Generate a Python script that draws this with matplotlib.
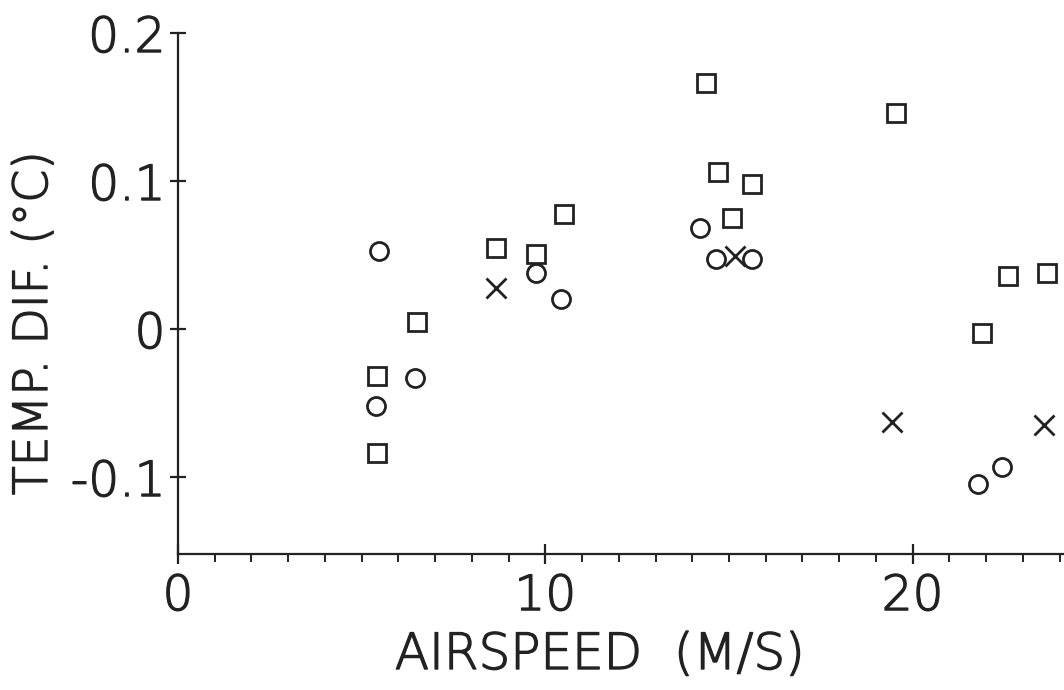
import matplotlib
matplotlib.use("Agg")
import matplotlib.pyplot as plt
import matplotlib.patheffects as pe
from matplotlib.ticker import FixedLocator, FixedFormatter
from matplotlib.font_manager import FontProperties

# Data
square_x = [5.43, 5.43, 6.52, 8.65, 9.74, 10.5, 14.38, 14.7, 15.09, 15.63, 19.56, 21.88, 22.6, 23.66]
square_y = [-0.032, -0.084, 0.005, 0.055, 0.051, 0.078, 0.166, 0.106, 0.075, 0.098, 0.146, -0.003, 0.036, 0.038]
circle_x = [5.46, 5.40, 6.44, 9.74, 10.42, 14.2, 14.65, 15.63, 21.77, 22.43]
circle_y = [0.053, -0.052, -0.033, 0.038, 0.020, 0.068, 0.047, 0.047, -0.105, -0.093]
cross_x = [8.65, 15.17, 19.43, 23.57]
cross_y = [0.028, 0.049, -0.063, -0.065]

ytick_vals = [-0.1, 0.0, 0.1, 0.2]
ytick_labels = ["-0.1", "0", "0.1", "0.2"]
xtick_vals = [0, 10, 20]
xtick_labels = ["0", "10", "20"]
x_label = "AIRSPEED  (M/S)"
y_label = "TEMP. DIF. (°C)"

plt.rcParams['font.family'] = ['DejaVu Sans']
LABFONT = dict(family='DejaVu Sans', weight=200, stretch='normal')

ink = '#222222'
thick = [pe.withStroke(linewidth=1.0, foreground=ink)]

fig = plt.figure(figsize=(10.64, 6.90), dpi=100)
L = 178 / 1064
B = 1 - 554 / 690
T = 1 - 33 / 690
ax = fig.add_axes([L, B, 1 - L, T - B])
ax.set_xlim(0, 24.12)
ax.set_ylim(-0.152, 0.2)

lw = 2.0
ax.plot(square_x, square_y, linestyle='none', marker='s', ms=13, mfc='none', mec=ink, mew=lw)
ax.plot(circle_x, circle_y, linestyle='none', marker='o', ms=13, mfc='none', mec=ink, mew=lw)
ax.plot(cross_x, cross_y, linestyle='none', marker='x', ms=15, mfc='none', mec=ink, mew=lw)

for s in ['top', 'right']:
    ax.spines[s].set_visible(False)
for s in ['left', 'bottom']:
    ax.spines[s].set_linewidth(1.6)
    ax.spines[s].set_color(ink)

ax.yaxis.set_major_locator(FixedLocator(ytick_vals))
ax.yaxis.set_major_formatter(FixedFormatter(ytick_labels))
ax.xaxis.set_major_locator(FixedLocator(xtick_vals))
ax.xaxis.set_major_formatter(FixedFormatter(xtick_labels))
ax.xaxis.set_minor_locator(FixedLocator([v for v in range(1, 25) if v % 10 != 0]))

ax.tick_params(axis='y', which='major', direction='inout', length=12, width=1.6,
               pad=3, colors=ink)
ax.tick_params(axis='x', which='major', direction='inout', length=14, width=1.6,
               pad=6, colors=ink)
ax.tick_params(axis='x', which='minor', direction='out', length=6, width=1.4, colors=ink)
for lab in ax.get_xticklabels() + ax.get_yticklabels():
    lab.set_fontproperties(FontProperties(size=35, **LABFONT))
    lab.set_path_effects(thick)

fig.text(600 / 1064, 1 - 655 / 690, x_label, ha='center', va='center',
         fontsize=36, color=ink, path_effects=thick, **LABFONT)
fig.text(34 / 1064, 1 - 323 / 690, y_label, ha='center', va='center',
         rotation=90, fontsize=34, color=ink, path_effects=thick, **LABFONT)

fig.savefig("out.png", dpi=100)
